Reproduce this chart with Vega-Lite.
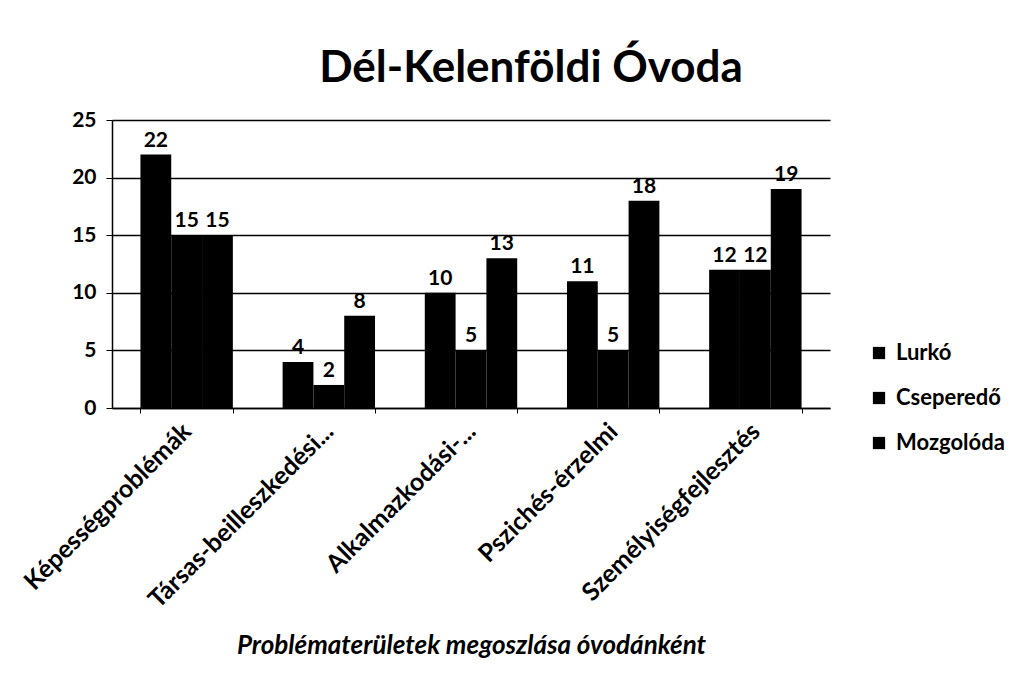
{
  "$schema": "https://vega.github.io/schema/vega-lite/v6.json",
  "width": 718,
  "height": 288,
  "autosize": {"type": "none"},
  "padding": {"left": 112, "top": 120, "right": 196, "bottom": 286},
  "background": "white",
  "title": {
    "text": "Dél-Kelenföldi Óvoda",
    "font": "Lato",
    "fontSize": 44,
    "fontWeight": "bold",
    "color": "black",
    "anchor": "middle",
    "offset": 18,
    "dx": 60
  },
  "data": {
    "values": [
      {"terulet": "Képességproblémák", "ovoda": "Lurkó", "ertek": 22},
      {"terulet": "Képességproblémák", "ovoda": "Cseperedő", "ertek": 15},
      {"terulet": "Képességproblémák", "ovoda": "Mozgolóda", "ertek": 15},
      {"terulet": "Társas-beilleszkedési...", "ovoda": "Lurkó", "ertek": 4},
      {"terulet": "Társas-beilleszkedési...", "ovoda": "Cseperedő", "ertek": 2},
      {"terulet": "Társas-beilleszkedési...", "ovoda": "Mozgolóda", "ertek": 8},
      {"terulet": "Alkalmazkodási-...", "ovoda": "Lurkó", "ertek": 10},
      {"terulet": "Alkalmazkodási-...", "ovoda": "Cseperedő", "ertek": 5},
      {"terulet": "Alkalmazkodási-...", "ovoda": "Mozgolóda", "ertek": 13},
      {"terulet": "Pszichés-érzelmi", "ovoda": "Lurkó", "ertek": 11},
      {"terulet": "Pszichés-érzelmi", "ovoda": "Cseperedő", "ertek": 5},
      {"terulet": "Pszichés-érzelmi", "ovoda": "Mozgolóda", "ertek": 18},
      {"terulet": "Személyiségfejlesztés", "ovoda": "Lurkó", "ertek": 12},
      {"terulet": "Személyiségfejlesztés", "ovoda": "Cseperedő", "ertek": 12},
      {"terulet": "Személyiségfejlesztés", "ovoda": "Mozgolóda", "ertek": 19}
    ]
  },
  "encoding": {
    "x": {
      "field": "terulet",
      "type": "nominal",
      "sort": null,
      "scale": {"paddingInner": 0.35, "paddingOuter": 0.2},
      "axis": {
        "title": "Problématerületek megoszlása óvodánként",
        "titleFont": "Lato",
        "titleFontSize": 26,
        "titleFontWeight": "bold",
        "titleFontStyle": "italic",
        "titleColor": "black",
        "titlePadding": 24,
        "labelAngle": -45,
        "labelAlign": "right",
        "labelBaseline": "middle",
        "labelFont": "Lato",
        "labelFontSize": 25,
        "labelFontWeight": "bold",
        "labelColor": "black",
        "labelLimit": 400,
        "labelPadding": 14,
        "domainColor": "black",
        "domainWidth": 1.5,
        "tickColor": "black",
        "tickBand": "extent",
        "tickSize": 5
      }
    },
    "xOffset": {
      "field": "ovoda",
      "type": "nominal",
      "sort": ["Lurkó", "Cseperedő", "Mozgolóda"],
      "scale": {"paddingInner": 0, "paddingOuter": 0}
    },
    "y": {
      "field": "ertek",
      "type": "quantitative",
      "scale": {"domain": [0, 25]},
      "axis": {
        "title": null,
        "values": [0, 5, 10, 15, 20, 25],
        "grid": true,
        "gridColor": "black",
        "gridOpacity": 1,
        "gridWidth": 1.5,
        "labelFont": "Lato",
        "labelFontSize": 21,
        "labelFontWeight": "bold",
        "labelColor": "black",
        "labelPadding": 10,
        "domainColor": "black",
        "domainWidth": 1.5,
        "tickColor": "black",
        "tickSize": 6
      }
    }
  },
  "layer": [
    {
      "mark": {"type": "bar", "color": "black"},
      "encoding": {
        "color": {
          "field": "ovoda",
          "type": "nominal",
          "sort": ["Lurkó", "Cseperedő", "Mozgolóda"],
          "scale": {"range": ["black", "black", "black"]},
          "legend": {
            "title": null,
            "orient": "none",
            "legendX": 756,
            "legendY": 222,
            "symbolType": "square",
            "symbolSize": 150,
            "symbolFillColor": "black",
            "labelFont": "Lato",
            "labelFontSize": 22,
            "labelFontWeight": "bold",
            "labelColor": "black",
            "labelOffset": 6,
            "rowPadding": 23
          }
        }
      }
    },
    {
      "mark": {"type": "text", "baseline": "bottom", "dy": -4, "font": "Lato", "fontSize": 21, "fontWeight": "bold", "color": "black"},
      "encoding": {"text": {"field": "ertek", "type": "quantitative"}}
    }
  ],
  "config": {"view": {"stroke": null}}
}
